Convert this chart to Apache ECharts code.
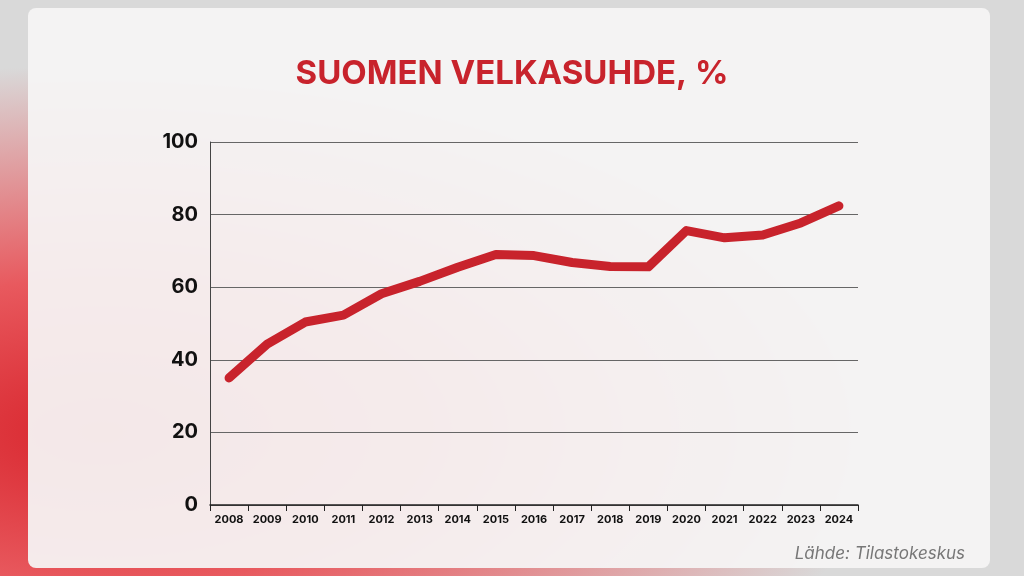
<!DOCTYPE html>
<html>
<head>
<meta charset="utf-8">
<script src="https://cdn.jsdelivr.net/npm/echarts@6/dist/echarts.min.js"></script>
<style>
  html, body { margin: 0; padding: 0; }
  body {
    width: 1024px; height: 576px; overflow: hidden;
    background: radial-gradient(ellipse at 10% 75%, #d8242c 0%, #e8595e 25%, #d9d9d9 60%),
                linear-gradient(90deg, #c81e26, #ddd 40%, #ddd 80%, #b5121b);
  }
  #card {
    position: absolute; left: 28px; top: 8px; width: 962px; height: 560px;
    background: rgba(245, 244, 244, 0.94); border-radius: 8px;
  }
  #chart { position: absolute; left: 0; top: 0; width: 1024px; height: 576px; }
</style>
</head>
<body>
<div id="card"></div>
<div id="chart"></div>
<script>
const years = ['2008','2009','2010','2011','2012','2013','2014','2015','2016','2017','2018','2019','2020','2021','2022','2023','2024'];
const debtRatio = [35.0, 44.3, 50.4, 52.3, 58.2, 61.6, 65.5, 69.0, 68.7, 66.8, 65.7, 65.6, 75.6, 73.6, 74.4, 77.7, 82.4];

const chart = echarts.init(document.getElementById('chart'));
chart.setOption({
  animation: false,
  title: [{
    text: 'SUOMEN VELKASUHDE, %',
    left: 'center', top: 53,
    textStyle: { color: '#c8232c', fontSize: 33, fontWeight: 'bold', fontFamily: 'Inter' }
  }, {
    text: 'Lähde: Tilastokeskus',
    right: 54, top: 540,
    textStyle: { color: '#777', fontSize: 17, fontStyle: 'italic', fontWeight: 'normal', fontFamily: 'Inter' }
  }],
  grid: { left: 210, right: 166, top: 142, bottom: 71 },
  xAxis: {
    type: 'category',
    data: years,
    boundaryGap: true,
    axisLine: { lineStyle: { color: '#222', width: 1.5 } },
    axisTick: { show: true, length: 6, interval: 0, lineStyle: { color: '#222' } },
    axisLabel: { interval: 0, color: '#111', fontSize: 11, fontWeight: 'bold', fontFamily: 'Inter', margin: 9 }
  },
  yAxis: {
    type: 'value', min: 0, max: 100, interval: 20,
    axisLine: { show: true, lineStyle: { color: '#444' } },
    axisLabel: { color: '#111', fontSize: 20, fontWeight: 'bold', fontFamily: 'Inter', margin: 12 },
    splitLine: { lineStyle: { color: '#666', width: 1 } }
  },
  series: [{
    type: 'line',
    data: debtRatio,
    symbol: 'none',
    lineStyle: { color: '#c8232c', width: 9, cap: 'round', join: 'round' }
  }]
});
</script>
</body>
</html>
